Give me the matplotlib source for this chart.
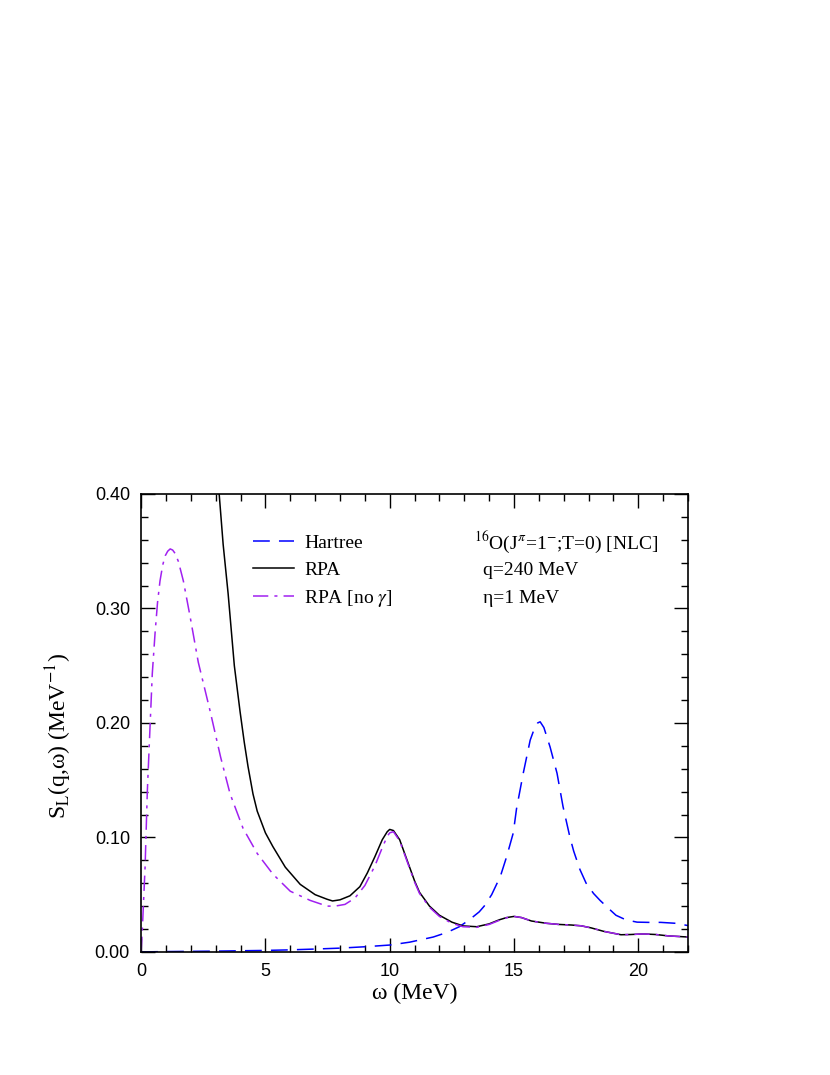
import matplotlib
matplotlib.use("Agg")
import matplotlib.pyplot as plt
from matplotlib.ticker import MultipleLocator

# values, omega in MeV
hartree_w = [0.0, 1.0, 2.0, 3.0, 4.0, 5.0, 6.0, 7.0, 8.0, 9.0, 10.0, 10.8, 11.75, 12.3, 12.8,
             13.2, 13.6, 13.8, 14.1, 14.45, 14.7, 14.97, 15.1, 15.37, 15.65, 15.8, 15.95, 16.05,
             16.2, 16.45, 16.73, 16.97, 17.25, 17.4, 17.65, 17.9, 18.2, 18.46, 18.8, 19.1, 19.5,
             19.95, 20.4, 20.9, 21.5, 22.0]
hartree_s = [0.0, 0.0003, 0.0005, 0.0007, 0.001, 0.0013, 0.0018, 0.0025, 0.0033, 0.0045,
             0.006, 0.0085, 0.013, 0.017, 0.022, 0.028, 0.035, 0.040, 0.050, 0.066, 0.083,
             0.104, 0.125, 0.156, 0.185, 0.194, 0.200, 0.201, 0.196, 0.179, 0.156, 0.127, 0.100,
             0.088, 0.072, 0.060, 0.051, 0.045, 0.038, 0.032, 0.028, 0.026, 0.0258, 0.0258,
             0.025, 0.023]

rpa_w = [2.8, 3.14, 3.3, 3.5, 3.75, 3.98, 4.15, 4.3, 4.5, 4.67, 5.0, 5.3, 5.8, 6.4, 7.0, 7.48,
         7.7, 8.0, 8.4, 8.8, 9.1, 9.4, 9.7, 9.9, 10.0, 10.15, 10.4, 10.7, 11.0, 11.2, 11.6, 12.0,
         12.5, 12.95, 13.5, 14.0, 14.4, 14.7, 15.0, 15.3, 15.7, 16.3, 16.8, 17.3, 17.7, 18.1,
         18.6, 19.3, 19.7, 20.2, 20.7, 21.2, 21.6, 22.0]
rpa_s = [0.47, 0.40, 0.356, 0.313, 0.250, 0.210, 0.183, 0.162, 0.138, 0.123, 0.104, 0.092,
         0.074, 0.059, 0.050, 0.046, 0.0445, 0.0455, 0.049, 0.057, 0.069, 0.083, 0.098, 0.105,
         0.107, 0.106, 0.098, 0.080, 0.062, 0.052, 0.040, 0.032, 0.026, 0.0227, 0.022, 0.0245,
         0.028, 0.030, 0.031, 0.030, 0.027, 0.025, 0.024, 0.0235, 0.0228, 0.021, 0.018, 0.015,
         0.0152, 0.0157, 0.0152, 0.014, 0.0135, 0.013]

nogam_w = [0.0, 0.05, 0.16, 0.25, 0.36, 0.45, 0.56, 0.66, 0.76, 0.87, 0.97, 1.07, 1.17, 1.27,
           1.37, 1.5, 1.7, 1.97, 2.3, 2.78, 3.2, 3.58, 4.1, 4.67, 5.3, 6.0, 6.8, 7.48, 7.8, 8.2,
           8.6, 9.0, 9.4, 9.7, 9.9, 10.0, 10.15, 10.4, 10.7, 11.0, 11.2, 11.6, 12.0, 12.5, 12.95,
           13.5, 14.0, 14.4, 14.7, 15.0, 15.3, 15.7, 16.3, 16.8, 17.3, 17.7, 18.1, 18.6, 19.3,
           19.7, 20.2, 20.7, 21.2, 21.6, 22.0]
nogam_s = [0.0, 0.02, 0.074, 0.14, 0.197, 0.243, 0.278, 0.305, 0.324, 0.338, 0.346, 0.350,
           0.352, 0.351, 0.348, 0.341, 0.324, 0.293, 0.253, 0.210, 0.170, 0.138, 0.108, 0.086,
           0.068, 0.053, 0.045, 0.040, 0.040, 0.0415, 0.047, 0.058, 0.075, 0.091, 0.101, 0.104,
           0.105, 0.097, 0.079, 0.061, 0.051, 0.039, 0.031, 0.025, 0.022, 0.0215, 0.024, 0.0275,
           0.0298, 0.031, 0.030, 0.027, 0.025, 0.024, 0.0235, 0.0228, 0.021, 0.018, 0.015,
           0.0152, 0.0157, 0.0152, 0.014, 0.0135, 0.013]

plt.rcParams["font.family"] = ["Liberation Serif", "DejaVu Serif"]
plt.rcParams["mathtext.fontset"] = "stix"

fig = plt.figure(figsize=(8.3, 10.75), dpi=100)
ax = fig.add_axes([0.170, 0.1145, 0.659, 0.426])

ax.plot(hartree_w, hartree_s, color="#0000ff", lw=1.1, dashes=(11, 6), label="Hartree")
ax.plot(rpa_w, rpa_s, color="black", lw=1.1, label="RPA")
ax.plot(nogam_w, nogam_s, color="#a020f0", lw=1.1, dashes=(10, 4, 2, 4),
        label="RPA [no $\\gamma$]")

ax.set_xlim(0, 22)
ax.set_ylim(0, 0.40)
ax.xaxis.set_major_locator(MultipleLocator(5))
ax.xaxis.set_minor_locator(MultipleLocator(1))
ax.yaxis.set_major_locator(MultipleLocator(0.1))
ax.yaxis.set_minor_locator(MultipleLocator(0.02))
ax.tick_params(which="both", direction="in", top=True, right=True, width=1.0)
ax.tick_params(which="major", length=10, labelsize=13, pad=8)
ax.tick_params(which="minor", length=5)
for lab in ax.get_xticklabels() + ax.get_yticklabels():
    lab.set_fontfamily("Liberation Sans")
ax.yaxis.set_major_formatter(plt.FuncFormatter(lambda v, p: f"{v:.2f}"))
for sp in ax.spines.values():
    sp.set_linewidth(1.2)

ax.set_xlabel("ω (MeV)", fontsize=17, labelpad=2)
ax.set_ylabel("S$_\\mathrm{L}$(q,ω) (MeV$^{-1}$)", fontsize=17)
ax.yaxis.set_label_coords(-0.123, 0.472)

ax.legend(loc="upper left", bbox_to_anchor=(0.172, 0.95), frameon=False, fontsize=14,
          handlelength=2.1, handletextpad=0.55, labelspacing=0.48)

ax.text(0.608, 0.895, "$^{16}$O(J$^{\\pi}$=1$^{-}$;T=0) [NLC]", transform=ax.transAxes,
        fontsize=14, va="center")
ax.text(0.625, 0.833, "q=240 MeV", transform=ax.transAxes, fontsize=14, va="center")
ax.text(0.625, 0.772, "η=1 MeV", transform=ax.transAxes, fontsize=14, va="center")

fig.savefig("out.png", dpi=100)
